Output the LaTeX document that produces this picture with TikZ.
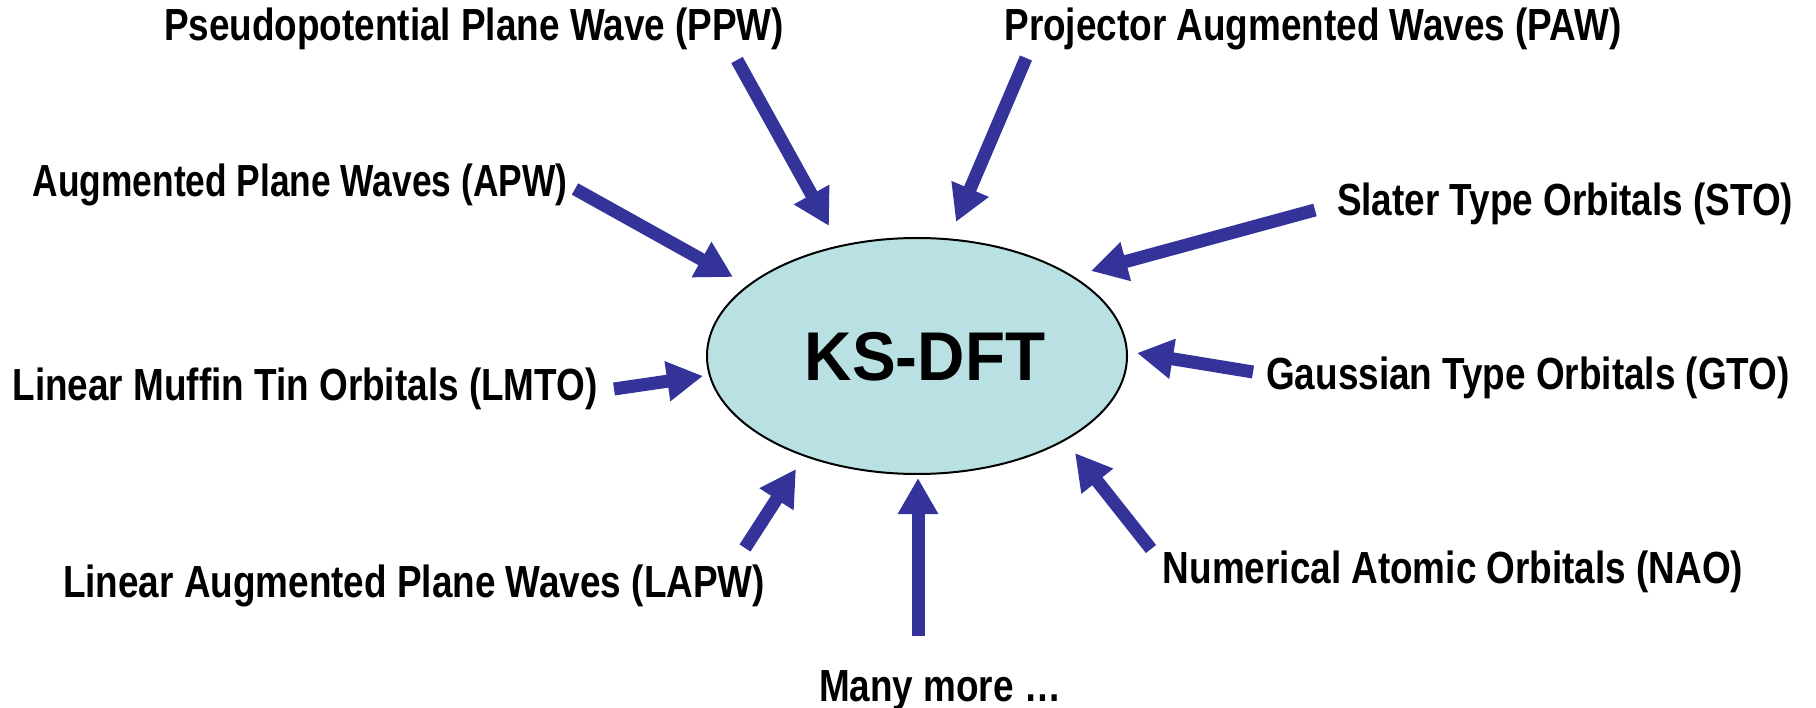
\documentclass[tikz,border=0pt]{standalone}
\usepackage{fontspec}
\usetikzlibrary{arrows.meta,shapes.geometric}
\newfontfamily\labfont{Liberation Sans}[FakeStretch=0.82]
\newfontfamily\labnarrow{Liberation Sans}[FakeStretch=0.785]
\newfontfamily\corefont{Liberation Sans}[FakeStretch=0.95]
\definecolor{arrowblue}{RGB}{51,51,153}
\definecolor{corefill}{RGB}{185,224,227}
\begin{document}
\begin{tikzpicture}[x=1pt,y=-1pt,
  core/.style={ellipse,draw=black,line width=2pt,fill=corefill,
    minimum width=420pt,minimum height=236pt,inner sep=0pt},
  coretext/.style={inner sep=0pt,font=\corefont\bfseries\fontsize{69}{72}\selectfont},
  method/.style={inner sep=0pt,font=\labfont\bfseries\fontsize{45}{50}\selectfont},
  feed/.style={draw=arrowblue,line width=13pt,
    -{Triangle[width=38pt,length=36pt]}}]
\useasboundingbox (0,0) rectangle (1816,708);

% central method
\node[core] (ks) at (917,356) {};
\node[coretext] (kslabel) at (925,357) {KS-DFT};

% basis-set families
\node[method] (ppw)  at (474,29)  {Pseudopotential Plane Wave (PPW)};
\node[method] (paw)  at (1313,29) {Projector Augmented Waves (PAW)};
\node[method,font=\labnarrow\bfseries\fontsize{45}{50}\selectfont]
             (apw)  at (300,185) {Augmented Plane Waves (APW)};
\node[method] (sto)  at (1565,204) {Slater Type Orbitals (STO)};
\node[method] (lmto) at (305,389) {Linear Muffin Tin Orbitals (LMTO)};
\node[method] (gto)  at (1528,378) {Gaussian Type Orbitals (GTO)};
\node[method] (lapw) at (414,586) {Linear Augmented Plane Waves (LAPW)};
\node[method] (nao)  at (1453,572) {Numerical Atomic Orbitals (NAO)};
\node[method] (more) at (940,691) {Many more …};

% arrow ends
\coordinate (ppw-s)  at (737,60);   \coordinate (ppw-t)  at (829,226);
\coordinate (paw-s)  at (1026,58);  \coordinate (paw-t)  at (956,222);
\coordinate (apw-s)  at (575,189);  \coordinate (apw-t)  at (733,277);
\coordinate (sto-s)  at (1315,210); \coordinate (sto-t)  at (1091,271);
\coordinate (gto-s)  at (1253,372); \coordinate (gto-t)  at (1137,353);
\coordinate (lmto-s) at (614,389);  \coordinate (lmto-t) at (703,376);
\coordinate (lapw-s) at (745,548);  \coordinate (lapw-t) at (796,469);
\coordinate (more-s) at (918,636);  \coordinate (more-t) at (918,478);
\coordinate (nao-s)  at (1151,549); \coordinate (nao-t)  at (1075,453);

\foreach \m in {ppw,paw,apw,sto,gto,lmto,lapw,more,nao}
  \draw[feed] (\m-s) -- (\m-t);
\end{tikzpicture}
\end{document}
